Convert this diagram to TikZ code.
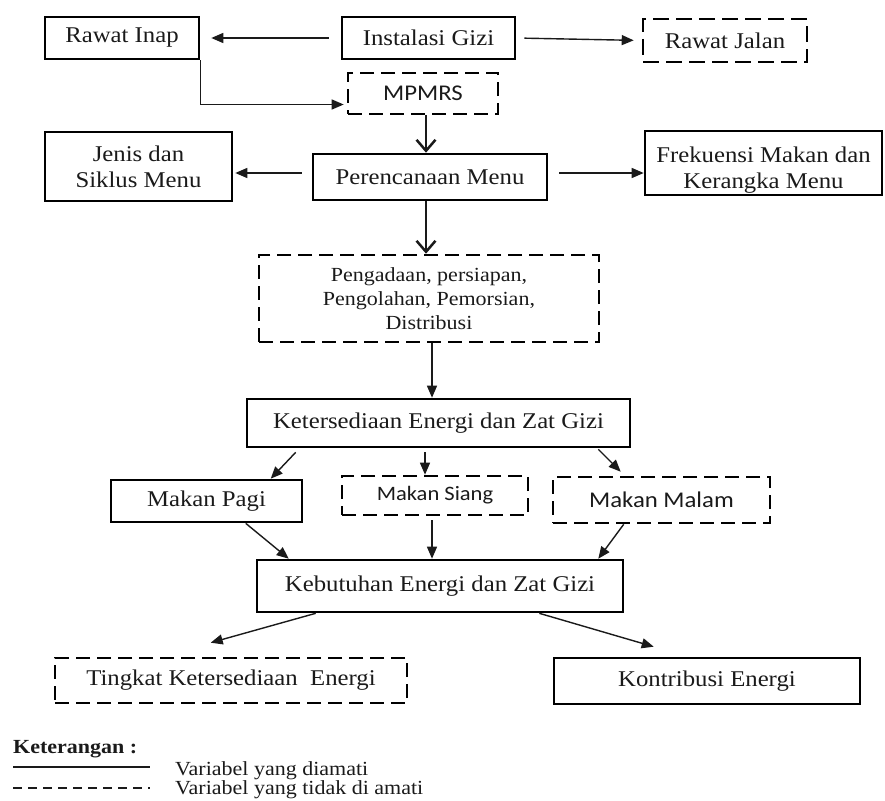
\documentclass[tikz,border=0pt]{standalone}
\usepackage{fontspec}
\setmainfont[FakeStretch=1.1]{Liberation Serif}
\newfontfamily\sansf[FakeStretch=1.1]{Carlito}
\usetikzlibrary{arrows.meta,calc}
\definecolor{ink}{HTML}{1A1A1A}
\tikzset{
  box/.style={draw=black, line width=2.6pt, inner sep=0pt, align=center, text=ink,
    font=\fontsize{22.5}{26}\selectfont},
  dbox/.style={box, dash pattern=on 14pt off 7pt},
  sbox/.style={dbox, font=\sansf\fontsize{22.5}{26}\selectfont},
  arr/.style={draw=ink, line width=1.4pt, -{Triangle[length=12pt,width=10pt]}},
  thickarr/.style={draw=ink, line width=2.5pt, -{Straight Barb[length=11pt,width=19pt]}},
  legtext/.style={anchor=west, inner sep=0pt, text=ink, font=\fontsize{20}{22}\selectfont}
}
\begin{document}
\begin{tikzpicture}[x=1pt,y=-1pt]
\useasboundingbox (0,0) rectangle (885,800);
% boxes
\node[box, minimum width=154pt, minimum height=42pt] (inap) at (122,38) {Rawat Inap};
\node[box, minimum width=173pt, minimum height=42pt] (gizi) at (428.5,38) {Instalasi Gizi};
\node[dbox, dash pattern=on 16pt off 7pt, minimum width=164pt, minimum height=43pt] (jalan) at (725,40.5) {Rawat Jalan};
\node[sbox, minimum width=150pt, minimum height=41pt] (mpmrs) at (423,93.5) {MPMRS};
\node[box, minimum width=187pt, minimum height=69pt] (jenis) at (138.5,166.5) {Jenis dan\\Siklus Menu};
\node[box, minimum width=234pt, minimum height=46pt] (peren) at (430,177) {Perencanaan Menu};
\node[box, minimum width=237pt, minimum height=64pt] (frek) at (763.5,163) {\rule{0pt}{30pt}Frekuensi Makan dan\\Kerangka Menu};
\node[dbox, minimum width=340pt, minimum height=87pt, font=\fontsize{20}{24}\selectfont] (proses) at (429,298.5)
  {Pengadaan, persiapan,\\Pengolahan, Pemorsian,\\Distribusi};
\node[box, minimum width=383pt, minimum height=48pt] (keter) at (438.5,423) {Ketersediaan Energi dan Zat Gizi};
\node[box, minimum width=191pt, minimum height=42pt] (pagi) at (206.5,501) {Makan Pagi};
\node[sbox, minimum width=186pt, minimum height=39pt, font=\sansf\fontsize{20.5}{24}\selectfont] (siang) at (435,495.5) {Makan Siang};
\node[sbox, minimum width=217pt, minimum height=46pt] (malam) at (661.5,500) {Makan Malam};
\node[box, minimum width=366pt, minimum height=52pt] (kebut) at (440,586) {Kebutuhan Energi dan Zat Gizi};
\node[dbox, minimum width=352pt, minimum height=45pt] (tingkat) at (231,680.5) {Tingkat Ketersediaan\ \ Energi};
\node[box, minimum width=306pt, minimum height=46pt] (kontri) at (707,681) {Kontribusi Energi};
% connectors
\draw[arr, shorten <=12pt, shorten >=11pt] (gizi.west) -- (inap.east);
\draw[arr, shorten <=8pt, shorten >=8pt] (gizi.east) -- (jalan.west);
\draw[arr, shorten >=3pt] (inap.south east) |- ([yshift=-11pt]mpmrs.west);
\draw[thickarr] ([xshift=3pt]mpmrs.south) -- ([xshift=-4pt]peren.north);
\draw[arr, shorten <=10pt, shorten >=2pt] ([yshift=4pt]peren.west) -- ([yshift=4pt]peren.west -| jenis.east);
\draw[arr, shorten <=11pt] ([yshift=4pt]peren.east) -- ([yshift=4pt]peren.east -| frek.west);
\draw[thickarr] ([xshift=-4pt]peren.south) -- ([xshift=-3pt]proses.north);
\draw[arr] ([xshift=3pt]proses.south) -- ([xshift=-6.5pt]keter.north);
\draw[arr] ([xshift=50pt,yshift=-4pt]keter.south west) -- ([xshift=161pt]pagi.north west);
\draw[arr] ([xshift=-13.5pt,yshift=-4pt]keter.south) -- ([xshift=-10pt]siang.north);
\draw[arr] ([xshift=-33pt,yshift=-1pt]keter.south east) -- ([xshift=69pt,yshift=4pt]malam.north west);
\draw[arr] ([xshift=136pt]pagi.south west) -- ([xshift=33pt]kebut.north west);
\draw[arr] ([xshift=-3pt,yshift=-4pt]siang.south) -- ([xshift=-8pt]kebut.north);
\draw[arr] ([xshift=72pt]malam.south west) -- ([xshift=-26pt]kebut.north east);
\draw[arr] ([xshift=60pt]kebut.south west) -- ([xshift=157pt,yshift=14pt]tingkat.north west);
\draw[arr] ([xshift=-85pt]kebut.south east) -- ([xshift=101pt,yshift=10pt]kontri.north west);
% legend
\node[legtext, font=\bfseries\fontsize{20}{22}\selectfont] (ket) at (13,749) {Keterangan :};
\draw[ink, line width=1.3pt] (13,767) -- (150,767);
\draw[ink, line width=1.3pt, dash pattern=on 9pt off 6pt] (13,788) -- (150,788);
\node[legtext] (v1) at (175,771) {Variabel yang diamati};
\node[legtext] (v2) at (175,790) {Variabel yang tidak di amati};
\end{tikzpicture}
\end{document}
